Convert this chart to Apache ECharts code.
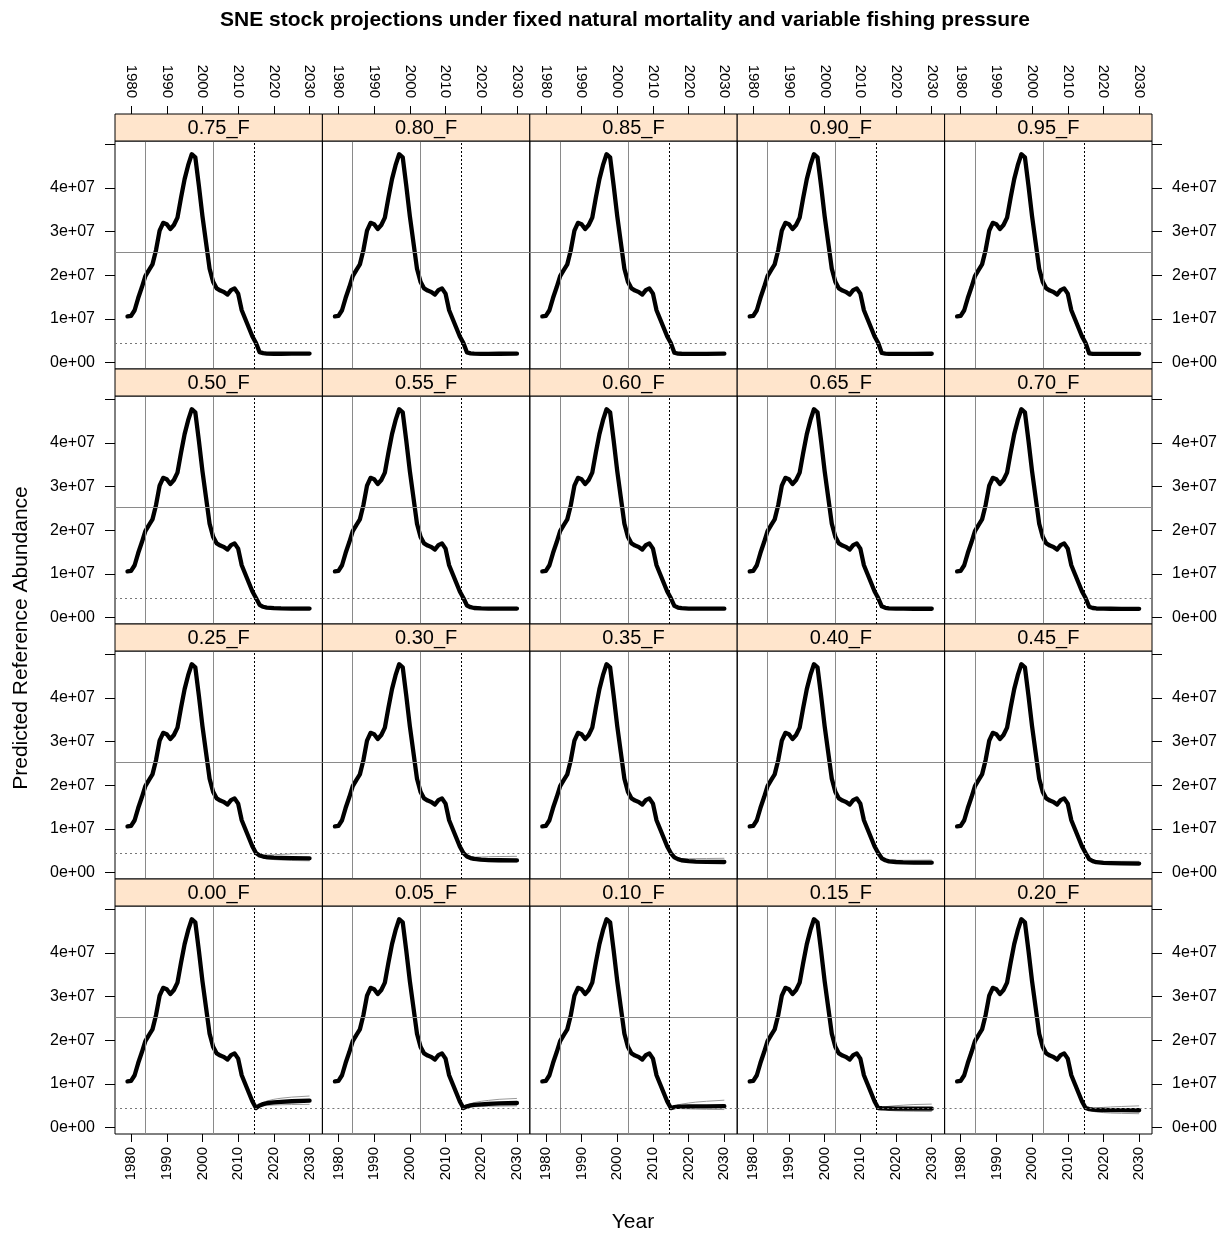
<!DOCTYPE html>
<html>
<head>
<meta charset="utf-8">
<script src="https://cdn.jsdelivr.net/npm/echarts@6/dist/echarts.min.js"></script>
<style>
html, body {margin: 0; padding: 0; background: #fff;}
#chart {width: 1225px; height: 1237px;}
</style>
</head>
<body>
<div id="chart"></div>
<script>
// Values are in millions of fish
var histYears = [1979, 1980, 1981, 1982, 1983, 1984, 1985, 1986, 1987, 1988, 1989, 1990,
  1991, 1992, 1993, 1994, 1995, 1996, 1997, 1998, 1999, 2000, 2001, 2002, 2003, 2004,
  2005, 2006, 2007, 2008, 2009, 2010, 2011, 2012, 2013, 2014];
var histValues = [10.6, 10.7, 12.0, 14.8, 17.2, 19.8, 21.2, 22.5, 25.8, 30.2, 32.0, 31.7,
  30.6, 31.5, 33.2, 37.8, 42.0, 45.2, 47.7, 47.0, 40.5, 33.5, 27.5, 21.5, 18.5, 17.0,
  16.5, 16.2, 15.6, 16.6, 17.0, 15.8, 12.0, 10.0, 8.0, 6.0];

var projYears = [2015, 2016, 2017, 2018, 2020, 2022, 2025, 2030];

var fLabels = ['0.00_F', '0.05_F', '0.10_F', '0.15_F', '0.20_F', '0.25_F', '0.30_F',
  '0.35_F', '0.40_F', '0.45_F', '0.50_F', '0.55_F', '0.60_F', '0.65_F', '0.70_F',
  '0.75_F', '0.80_F', '0.85_F', '0.90_F', '0.95_F'];

var projMedian = [
  [4.5, 5.1, 5.4, 5.6, 5.8, 5.9, 6.05, 6.2],
  [4.5, 4.9, 5.1, 5.2, 5.35, 5.45, 5.55, 5.65],
  [4.5, 4.7, 4.8, 4.82, 4.85, 4.87, 4.9, 4.92],
  [4.5, 4.45, 4.42, 4.4, 4.38, 4.37, 4.36, 4.35],
  [4.5, 4.25, 4.15, 4.1, 4.05, 4.03, 4.01, 4.0],
  [4.5, 3.95, 3.7, 3.55, 3.45, 3.4, 3.35, 3.3],
  [4.5, 3.7, 3.35, 3.15, 3.0, 2.9, 2.85, 2.8],
  [4.5, 3.5, 3.1, 2.85, 2.65, 2.55, 2.5, 2.45],
  [4.5, 3.3, 2.85, 2.6, 2.45, 2.35, 2.3, 2.3],
  [4.5, 3.1, 2.65, 2.4, 2.25, 2.18, 2.12, 2.1],
  [4.5, 2.95, 2.5, 2.3, 2.17, 2.12, 2.1, 2.1],
  [4.5, 2.8, 2.4, 2.22, 2.13, 2.1, 2.08, 2.08],
  [4.5, 2.7, 2.33, 2.18, 2.1, 2.07, 2.06, 2.06],
  [4.5, 2.6, 2.27, 2.14, 2.08, 2.06, 2.05, 2.05],
  [4.5, 2.5, 2.22, 2.11, 2.06, 2.05, 2.04, 2.04],
  [4.5, 2.42, 2.18, 2.09, 2.05, 2.05, 2.06, 2.08],
  [4.5, 2.35, 2.14, 2.07, 2.04, 2.04, 2.05, 2.07],
  [4.5, 2.28, 2.1, 2.05, 2.03, 2.03, 2.04, 2.06],
  [4.5, 2.22, 2.07, 2.03, 2.02, 2.02, 2.03, 2.05],
  [4.5, 2.16, 2.04, 2.01, 2.0, 2.01, 2.02, 2.04]
];

var projUpper = [
  [4.5, 5.3, 5.8, 6.1, 6.5, 6.75, 7.0, 7.25],
  [4.5, 5.1, 5.5, 5.75, 6.05, 6.25, 6.5, 6.7],
  [4.5, 4.9, 5.2, 5.4, 5.65, 5.85, 6.05, 6.3],
  [4.5, 4.65, 4.8, 4.9, 5.05, 5.15, 5.3, 5.4],
  [4.5, 4.45, 4.5, 4.55, 4.65, 4.75, 4.85, 5.0],
  [4.5, 4.15, 4.05, 4.05, 4.1, 4.2, 4.3, 4.4],
  [4.5, 3.9, 3.7, 3.6, 3.6, 3.65, 3.7, 3.75],
  [4.5, 3.7, 3.4, 3.25, 3.2, 3.22, 3.25, 3.3],
  [4.5, 3.5, 3.1, 2.95, 2.85, 2.85, 2.85, 2.9],
  [4.5, 3.3, 2.9, 2.7, 2.6, 2.6, 2.6, 2.6],
  [4.5, 3.1, 2.7, 2.5, 2.4, 2.38, 2.38, 2.4],
  [4.5, 2.95, 2.58, 2.42, 2.35, 2.34, 2.35, 2.37],
  [4.5, 2.85, 2.5, 2.37, 2.32, 2.31, 2.32, 2.34],
  [4.5, 2.75, 2.44, 2.33, 2.29, 2.29, 2.3, 2.32],
  [4.5, 2.65, 2.39, 2.3, 2.27, 2.28, 2.29, 2.31],
  [4.5, 2.57, 2.35, 2.28, 2.26, 2.27, 2.29, 2.32],
  [4.5, 2.5, 2.31, 2.26, 2.25, 2.26, 2.28, 2.31],
  [4.5, 2.43, 2.27, 2.24, 2.24, 2.25, 2.27, 2.3],
  [4.5, 2.37, 2.24, 2.22, 2.23, 2.24, 2.26, 2.29],
  [4.5, 2.31, 2.21, 2.2, 2.21, 2.23, 2.25, 2.28]
];

var projLower = [
  [4.5, 4.85, 5.0, 5.1, 5.2, 5.25, 5.3, 5.35],
  [4.5, 4.7, 4.75, 4.8, 4.85, 4.9, 4.95, 5.0],
  [4.5, 4.45, 4.4, 4.35, 4.3, 4.25, 4.2, 4.15],
  [4.5, 4.2, 4.05, 3.95, 3.85, 3.8, 3.75, 3.7],
  [4.5, 4.0, 3.75, 3.6, 3.45, 3.35, 3.28, 3.2],
  [4.5, 3.75, 3.4, 3.15, 3.0, 2.9, 2.8, 2.72],
  [4.5, 3.5, 3.1, 2.85, 2.65, 2.55, 2.5, 2.45],
  [4.5, 3.3, 2.85, 2.6, 2.4, 2.3, 2.2, 2.15],
  [4.5, 3.1, 2.65, 2.4, 2.2, 2.12, 2.05, 2.0],
  [4.5, 2.9, 2.45, 2.22, 2.05, 2.0, 1.95, 1.92],
  [4.5, 2.8, 2.35, 2.15, 2.02, 1.97, 1.93, 1.92],
  [4.5, 2.65, 2.25, 2.08, 1.98, 1.95, 1.92, 1.91],
  [4.5, 2.55, 2.18, 2.03, 1.95, 1.93, 1.91, 1.9],
  [4.5, 2.45, 2.12, 2.0, 1.93, 1.91, 1.9, 1.89],
  [4.5, 2.35, 2.07, 1.97, 1.92, 1.9, 1.89, 1.88],
  [4.5, 2.28, 2.04, 1.95, 1.9, 1.89, 1.89, 1.9],
  [4.5, 2.21, 2.0, 1.93, 1.89, 1.88, 1.88, 1.89],
  [4.5, 2.14, 1.97, 1.91, 1.88, 1.87, 1.87, 1.88],
  [4.5, 2.08, 1.94, 1.89, 1.87, 1.86, 1.86, 1.87],
  [4.5, 2.02, 1.91, 1.87, 1.86, 1.85, 1.85, 1.86]
];

// reference lines (years, abundance in millions)
var refYears = [1984, 2003];
var refLevel = 25.3;
var lowLevel = 4.5;
var projStartYear = 2014.5;

var xTicks = [1980, 1990, 2000, 2010, 2020, 2030];
var yTicks = [0, 1e7, 2e7, 3e7, 4e7, 5e7];
var yLabels = [0, 1e7, 2e7, 3e7, 4e7];

var MILLION = 1e6;
var FONT = "'Liberation Sans', Arial, sans-serif";

function sci(v) {
  if (v === 0) return '0e+00';
  var e = Math.floor(Math.log10(Math.abs(v)));
  var m = Math.round(v / Math.pow(10, e));
  return m + 'e+' + (e < 10 ? '0' + e : e);
}

function initChart() {
  var chart = echarts.init(document.getElementById('chart'), null, {renderer: 'canvas'});

  // panel layout
  var left0 = 115, colW = 207.4, top0 = 114, stripH = 27, panelH = 228, rowH = 255;

  var grids = [], xAxes = [], yAxes = [], series = [], graphics = [];

  for (var i = 0; i < fLabels.length; i++) {
    var row = 3 - Math.floor(i / 5);
    var col = i % 5;
    var gx = left0 + col * colW;
    var gy = top0 + row * rowH + stripH;

    grids.push({
      left: gx, top: gy, width: colW, height: panelH,
      show: true, borderColor: '#000', borderWidth: 1, backgroundColor: 'transparent'
    });

    var showX = (row === 0 || row === 3);
    xAxes.push({
      gridIndex: i,
      type: 'value',
      min: 1975.5,
      max: 2033.6,
      position: row === 0 ? 'top' : 'bottom',
      offset: row === 0 ? stripH : 0,
      axisLine: {show: false, onZero: false},
      splitLine: {show: false},
      axisTick: {show: showX, length: 8, customValues: xTicks, lineStyle: {color: '#000'}},
      axisLabel: {
        show: showX, customValues: xTicks, rotate: 90, margin: row === 0 ? 16 : 13,
        fontSize: 15, color: '#000', fontFamily: FONT,
        formatter: function(v) { return String(v); }
      }
    });

    var showY = (col === 0 || col === 4);
    yAxes.push({
      gridIndex: i,
      type: 'value',
      min: -1.44e6,
      max: 5.073e7,
      position: col === 4 ? 'right' : 'left',
      axisLine: {show: false, onZero: false},
      splitLine: {show: false},
      axisTick: {show: showY, length: 10, customValues: yTicks, lineStyle: {color: '#000'}},
      axisLabel: {
        show: showY, customValues: yLabels, margin: 20,
        fontSize: 16, color: '#000', fontFamily: FONT,
        formatter: function(v) { return sci(v); }
      }
    });

    // reference lines
    var greyLine = {color: '#8a8a8a', width: 1, type: 'solid'};
    series.push({
      type: 'line',
      xAxisIndex: i,
      yAxisIndex: i,
      data: [],
      silent: true,
      z: 1,
      markLine: {
        silent: true,
        symbol: 'none',
        animation: false,
        label: {show: false},
        data: [
          {xAxis: refYears[0], lineStyle: greyLine},
          {xAxis: refYears[1], lineStyle: greyLine},
          {yAxis: refLevel * MILLION, lineStyle: greyLine},
          {yAxis: lowLevel * MILLION, lineStyle: {color: '#777', width: 1, type: [2, 3]}},
          {xAxis: projStartYear, lineStyle: {color: '#000', width: 1, type: [2, 2]}}
        ]
      }
    });

    var up = [], lo = [], main = [];
    for (var k = 0; k < projYears.length; k++) {
      up.push([projYears[k], projUpper[i][k] * MILLION]);
      lo.push([projYears[k], projLower[i][k] * MILLION]);
    }
    for (var h = 0; h < histYears.length; h++) {
      main.push([histYears[h], histValues[h] * MILLION]);
    }
    for (var p = 0; p < projYears.length; p++) {
      main.push([projYears[p], projMedian[i][p] * MILLION]);
    }

    [up, lo].forEach(function(d) {
      series.push({
        type: 'line', xAxisIndex: i, yAxisIndex: i, data: d,
        showSymbol: false, silent: true, z: 2, animation: false,
        lineStyle: {color: '#999', width: 1}
      });
    });

    series.push({
      type: 'line', xAxisIndex: i, yAxisIndex: i, data: main,
      showSymbol: false, silent: true, z: 3, animation: false,
      lineStyle: {color: '#000', width: 4.3, join: 'round', cap: 'round'}
    });

    // strip
    graphics.push({
      type: 'rect',
      shape: {x: gx, y: top0 + row * rowH, width: colW, height: stripH},
      style: {fill: '#ffe5cc', stroke: '#000', lineWidth: 1},
      z: 10, silent: true
    });
    graphics.push({
      type: 'text',
      x: gx + colW / 2,
      y: top0 + row * rowH + stripH / 2 + 1,
      style: {
        text: fLabels[i], fontSize: 20, fontFamily: FONT, fill: '#000',
        textAlign: 'center', textVerticalAlign: 'middle'
      },
      z: 11, silent: true
    });
  }

  // title and axis titles
  graphics.push({
    type: 'text', x: 625, y: 20,
    style: {
      text: 'SNE stock projections under fixed natural mortality and variable fishing pressure',
      fontSize: 21, fontWeight: 'bold', fontFamily: FONT, fill: '#000',
      textAlign: 'center', textVerticalAlign: 'middle'
    },
    silent: true
  });
  graphics.push({
    type: 'text', x: 633, y: 1222,
    style: {
      text: 'Year', fontSize: 21, fontFamily: FONT, fill: '#000',
      textAlign: 'center', textVerticalAlign: 'middle'
    },
    silent: true
  });
  graphics.push({
    type: 'text', x: 21, y: 638, rotation: Math.PI / 2,
    style: {
      text: 'Predicted Reference Abundance', fontSize: 21, fontFamily: FONT, fill: '#000',
      textAlign: 'center', textVerticalAlign: 'middle'
    },
    silent: true
  });

  chart.setOption({
    animation: false,
    grid: grids,
    xAxis: xAxes,
    yAxis: yAxes,
    series: series,
    graphic: graphics
  });
}

initChart();
</script>
</body>
</html>
